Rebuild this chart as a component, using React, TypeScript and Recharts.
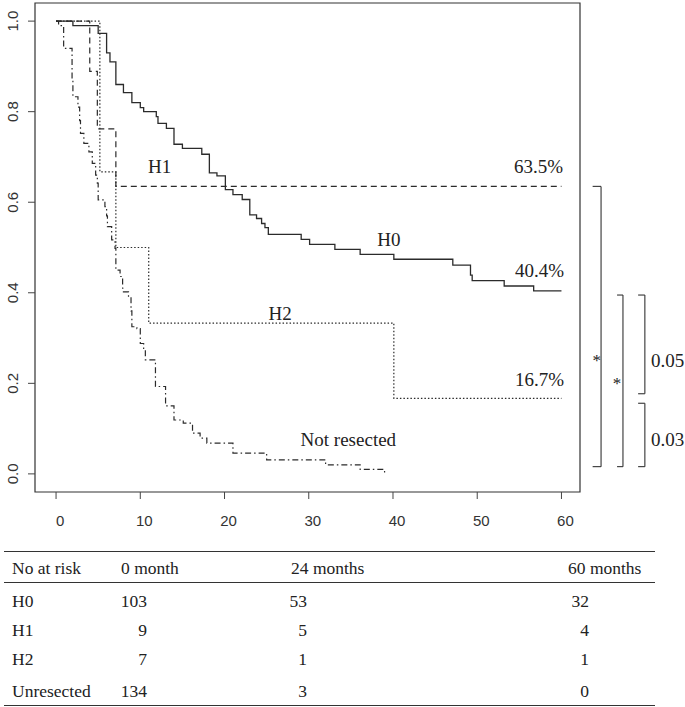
import { LineChart, Line, XAxis, YAxis, ReferenceLine, ReferenceArea, ReferenceDot } from "recharts"

// Kaplan-Meier steps: time (months) -> survival from that time on
const h0Times = [0, 2.0, 5.0, 6.0, 6.4, 7.1, 8.0, 9.0, 10.0, 10.4, 11.9, 12.1, 13.1, 14.0, 15.0, 17.3, 18.2, 19.1, 20.1, 21.0, 22.1, 23.0, 23.8, 24.4, 24.8, 25.2, 29.1, 30.1, 33.1, 36.1, 40.1, 47.1, 49.2, 49.4, 53.2, 56.7, 60]
const h0Surv = [1.0, 0.99, 0.973, 0.93, 0.91, 0.86, 0.842, 0.82, 0.809, 0.8, 0.789, 0.774, 0.763, 0.728, 0.719, 0.706, 0.665, 0.658, 0.628, 0.617, 0.606, 0.572, 0.564, 0.553, 0.544, 0.529, 0.518, 0.507, 0.496, 0.485, 0.474, 0.461, 0.439, 0.427, 0.415, 0.404, 0.404]

const h1Times = [0, 4.0, 4.9, 7.1, 60]
const h1Surv = [1.0, 0.889, 0.762, 0.635, 0.635]

const h2Times = [0, 5.2, 7.1, 11.0, 40.1, 60]
const h2Surv = [1.0, 0.667, 0.5, 0.333, 0.167, 0.167]

const nrTimes = [0, 0.3, 0.9, 1.9, 2.0, 2.6, 2.8, 2.9, 3.3, 3.9, 4.3, 4.7, 4.9, 5.0, 5.8, 6.0, 6.1, 6.6, 7.0, 7.1, 7.6, 7.9, 8.0, 8.6, 8.9, 9.0, 9.6, 10.0, 10.4, 10.6, 11.8, 13.0, 14.0, 15.1, 16.2, 17.1, 17.9, 21.0, 25.0, 32.0, 36.1, 39.0]
const nrSurv = [1.0, 0.99, 0.94, 0.87, 0.833, 0.81, 0.78, 0.752, 0.73, 0.711, 0.686, 0.66, 0.642, 0.605, 0.59, 0.57, 0.546, 0.517, 0.498, 0.45, 0.436, 0.41, 0.402, 0.391, 0.36, 0.325, 0.321, 0.288, 0.277, 0.252, 0.193, 0.15, 0.119, 0.112, 0.09, 0.079, 0.068, 0.046, 0.031, 0.02, 0.01, 0.0]

const xTicks = [0, 10, 20, 30, 40, 50, 60]
const yTicks = [0, 0.2, 0.4, 0.6, 0.8, 1.0]

// curve labels: text, x, y, anchor
const curveLabels: [string, number, number, string][] = [
  ["H1", 12.3, 0.678, "middle"],
  ["63.5%", 60.2, 0.678, "end"],
  ["H0", 39.5, 0.517, "middle"],
  ["40.4%", 60.3, 0.45, "end"],
  ["H2", 26.6, 0.355, "middle"],
  ["16.7%", 60.3, 0.208, "end"],
  ["Not resected", 34.7, 0.075, "middle"],
]

// comparison brackets: x-left, x-right, y-top, y-bottom
const brackets: [number, number, number, number][] = [
  [63.7, 64.7, 0.635, 0.016],
  [66.6, 67.3, 0.395, 0.016],
  [69.1, 69.9, 0.395, 0.177],
  [69.1, 69.9, 0.156, 0.016],
]
const bracketTexts: [string, number, number, string][] = [
  ["*", 64.2, 0.25, "middle"],
  ["*", 66.6, 0.2, "middle"],
  ["0.05", 72.6, 0.25, "middle"],
  ["0.03", 72.6, 0.075, "middle"],
]

const riskHeaders = ["No at risk", "0 month", "24 months", "60 months"]
const riskGroups = ["H0", "H1", "H2", "Unresected"]
const riskAt0 = [103, 9, 7, 134]
const riskAt24 = [53, 5, 1, 3]
const riskAt60 = [32, 4, 1, 0]

const toData = (t: number[], s: number[]) => t.map((v, i) => ({ t: v, s: s[i] }))

const ink = "#2b2b2b"
const serif = "'Liberation Serif', 'Times New Roman', serif"
const sans = "'Liberation Sans', Arial, sans-serif"

const XTick = (props: any) => (
  <text x={props.x + 4} y={props.y + 19} textAnchor="middle" dominantBaseline="central" fontFamily={sans} fontSize={15} fill="#333">
    {props.payload.value}
  </text>
)

const YTick = (props: any) => (
  <text
    x={props.x - 13}
    y={props.y}
    textAnchor="middle"
    dominantBaseline="central"
    fontFamily={sans}
    fontSize={15}
    fill="#333"
    transform={`rotate(-90 ${props.x - 13} ${props.y})`}
  >
    {props.payload.value.toFixed(1)}
  </text>
)

const textLabel = (text: string, anchor: string, size = 19) => (props: any) => {
  const vb = props.viewBox
  return (
    <text x={vb.x} y={vb.y} textAnchor={anchor} dominantBaseline="central" fontFamily={serif} fontSize={size} fill="#222">
      {text}
    </text>
  )
}

const cell = (left: number, top: number, text: string | number, align: "left" | "right" = "left") => (
  <div
    key={`${left}-${top}-${text}`}
    style={{
      position: "absolute",
      top: top - 11,
      height: 22,
      lineHeight: "22px",
      ...(align === "left" ? { left } : { right: 685 - left }),
      fontFamily: serif,
      fontSize: 17.5,
      color: "#222",
      whiteSpace: "nowrap",
    }}
  >
    {text}
  </div>
)

const rule = (top: number) => (
  <div key={`rule-${top}`} style={{ position: "absolute", left: 4, width: 651, top, height: 1.3, background: "#333" }} />
)

export default function App() {
  const rowY = [601, 630, 659, 691]
  return (
    <div style={{ position: "absolute", left: 0, top: 0, width: 685, height: 707, background: "#fff" }}>
      <LineChart width={685} height={540} margin={{ top: 3, right: 105, bottom: 0, left: 0 }}>
        <XAxis
          type="number"
          dataKey="t"
          domain={[-2.5, 62.2]}
          ticks={xTicks}
          allowDataOverflow
          axisLine={false}
          tickLine={{ stroke: "#444" }}
          tickSize={7}
          height={48}
          tick={XTick}
        />
        <YAxis
          type="number"
          domain={[-0.04, 1.04]}
          ticks={yTicks}
          allowDataOverflow
          axisLine={false}
          tickLine={{ stroke: "#444" }}
          tickSize={7}
          width={35}
          tick={YTick}
        />
        <ReferenceArea x1={-2.5} x2={62.2} y1={-0.04} y2={1.04} fill="none" stroke="#333" strokeWidth={1.2} fillOpacity={0} ifOverflow="visible" />
        <Line data={toData(h0Times, h0Surv)} dataKey="s" type="stepAfter" stroke={ink} strokeWidth={1.3} dot={false} isAnimationActive={false} />
        <Line data={toData(h1Times, h1Surv)} dataKey="s" type="stepAfter" stroke={ink} strokeWidth={1.2} strokeDasharray="6 4" dot={false} isAnimationActive={false} />
        <Line data={toData(h2Times, h2Surv)} dataKey="s" type="stepAfter" stroke={ink} strokeWidth={1.2} strokeDasharray="1.5 2" dot={false} isAnimationActive={false} />
        <Line data={toData(nrTimes, nrSurv)} dataKey="s" type="stepAfter" stroke={ink} strokeWidth={1.2} strokeDasharray="6 3 1.5 3" dot={false} isAnimationActive={false} />
        {curveLabels.map(([text, x, y, anchor]) => (
          <ReferenceDot key={text} x={x} y={y} r={0} fill="none" stroke="none" ifOverflow="visible" label={textLabel(text, anchor)} />
        ))}
        {brackets.flatMap(([xl, xr, yt, yb], i) => [
          <ReferenceLine key={`bt${i}`} segment={[{ x: xl, y: yt }, { x: xr, y: yt }]} stroke="#333" strokeWidth={1.1} ifOverflow="visible" />,
          <ReferenceLine key={`bv${i}`} segment={[{ x: xr, y: yt }, { x: xr, y: yb }]} stroke="#333" strokeWidth={1.1} ifOverflow="visible" />,
          <ReferenceLine key={`bb${i}`} segment={[{ x: xl, y: yb }, { x: xr, y: yb }]} stroke="#333" strokeWidth={1.1} ifOverflow="visible" />,
        ])}
        {bracketTexts.map(([text, x, y, anchor], i) => (
          <ReferenceDot key={`bt-${i}`} x={x} y={y} r={0} fill="none" stroke="none" ifOverflow="visible" label={textLabel(text, anchor, text === "*" ? 17 : 19)} />
        ))}
      </LineChart>
      {rule(551)}
      {rule(582)}
      {rule(705)}
      {cell(12, 568, riskHeaders[0])}
      {cell(121, 568, riskHeaders[1])}
      {cell(291, 568, riskHeaders[2])}
      {cell(568, 568, riskHeaders[3])}
      {riskGroups.map((g, i) => cell(12, rowY[i], g))}
      {riskAt0.map((v, i) => cell(147, rowY[i], v, "right"))}
      {riskAt24.map((v, i) => cell(307, rowY[i], v, "right"))}
      {riskAt60.map((v, i) => cell(589, rowY[i], v, "right"))}
    </div>
  )
}
